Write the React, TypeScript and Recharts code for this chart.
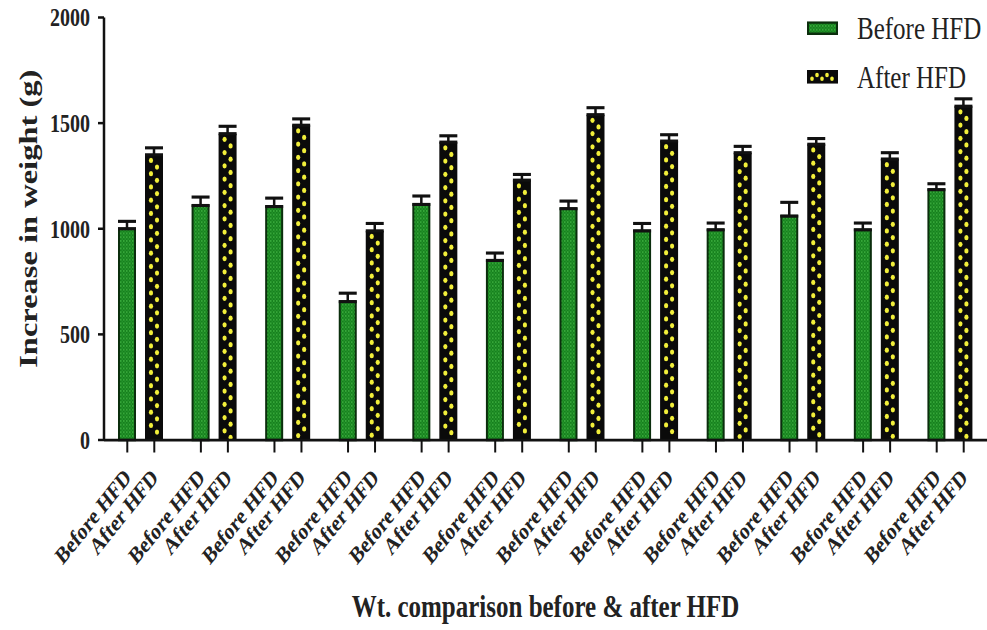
import React from 'react';
import { BarChart, Bar, XAxis, YAxis, ErrorBar, Legend } from 'recharts';

const groups = ['G1', 'G2', 'G3', 'G4', 'G5', 'G6', 'G7', 'G8', 'G9', 'G10', 'G11', 'G12'];
const seriesNames = ['Before HFD', 'After HFD'];
const tickLabels = ['Before HFD', 'After HFD'];
const beforeValues = [1000, 1110, 1105, 655, 1115, 850, 1095, 990, 995, 1060, 995, 1185];
const afterValues = [1350, 1450, 1490, 990, 1410, 1230, 1540, 1415, 1360, 1400, 1330, 1580];
const beforeErrors = [35, 40, 40, 40, 40, 35, 36, 35, 32, 65, 32, 28];
const afterErrors = [33, 35, 30, 35, 30, 27, 33, 30, 30, 27, 30, 35];
const yTicks = [0, 500, 1000, 1500, 2000];
const yTitle = 'Increase in weight (g)';
const xTitle = 'Wt. comparison before & after HFD';

const data = groups.map((g, i) => ({
  group: g,
  before: beforeValues[i],
  after: afterValues[i],
  beforeErr: [0, beforeErrors[i]],
  afterErr: [0, afterErrors[i]],
}));

const FONT = '"Liberation Serif", "Times New Roman", serif';
const BAR_SIZE = 18;
const BAR_GAP = 9;
const OFF = (BAR_SIZE + BAR_GAP) / 2;
const W = 987;
const H = 504;
const STRETCH = 1.25;

const BeforeShape = (p: any) => {
  const { x, y, width, height } = p;
  if (!height || height <= 0) return null;
  return (
    <rect x={x + 1} y={y} width={width - 2} height={height} fill="url(#greenTex)" stroke="#0b2e0d" strokeWidth={2} />
  );
};

const AfterShape = (p: any) => {
  const { x, y, width, height } = p;
  if (!height || height <= 0) return null;
  const cx = x + width / 2;
  const dots: any[] = [];
  let i = 0;
  for (let yy = y + 4.5; yy < y + height - 2; yy += 5.3) {
    dots.push(<circle key={i} cx={cx + (i % 2 ? 3 : -3)} cy={yy} r={2.1} fill="#f2ef3a" />);
    i++;
  }
  return (
    <g>
      <rect x={x} y={y} width={width} height={height} fill="#0a0a0a" />
      {dots}
    </g>
  );
};

const XTick = (p: any) => {
  const { x, y } = p;
  const offs = [-OFF, OFF];
  return (
    <g>
      {offs.map((o, k) => {
        const ax = x + o + 5;
        const ay = y + 31;
        return (
          <g key={k}>
            <line x1={x + o} y1={y} x2={x + o} y2={y + 10} stroke="#111" strokeWidth={2} />
            <text
              x={ax}
              y={ay}
              transform={`rotate(-45, ${ax}, ${ay})`}
              textAnchor="end"
              fontFamily={FONT}
              fontWeight="bold"
              fontSize={19}
              fill="#222"
            >
              {tickLabels[k]}
            </text>
          </g>
        );
      })}
    </g>
  );
};

const YLabel = (p: any) => {
  const vb = p.viewBox || { x: 0, y: 0, width: 0, height: 0 };
  const cx = 28;
  const cy = vb.y + vb.height / 2 - 8;
  return (
    <text
      x={cx}
      y={cy}
      transform={`rotate(-90, ${cx}, ${cy})`}
      textAnchor="middle"
      dominantBaseline="central"
      fontFamily={FONT}
      fontWeight="bold"
      fontSize={26}
      fill="#222"
    >
      {yTitle}
    </text>
  );
};

const XLabel = (p: any) => {
  const vb = p.viewBox || { x: 0, y: 0, width: 0, height: 0 };
  return (
    <text
      x={vb.x + vb.width / 2}
      y={vb.y + 142}
      textAnchor="middle"
      fontFamily={FONT}
      fontWeight="bold"
      fontSize={25}
      fill="#222"
    >
      {xTitle}
    </text>
  );
};

const LegendContent = () => (
  <div style={{ fontFamily: FONT }}>
    {seriesNames.map((name, k) => (
      <div key={name} style={{ display: 'flex', alignItems: 'center', height: 39 }}>
        <svg width={31} height={11} style={{ display: 'block' }}>
          {k === 0 ? (
            <rect x={1} y={1} width={29} height={9} fill="url(#greenTex)" stroke="#0b2e0d" strokeWidth={2} />
          ) : (
            <g>
              <rect x={0} y={0} width={31} height={11} fill="#0a0a0a" />
              {[5, 10, 15, 20, 25].map((cx, j) => (
                <circle key={j} cx={cx} cy={j % 2 ? 4 : 7} r={1.8} fill="#f2ef3a" />
              ))}
            </g>
          )}
        </svg>
        <span style={{ marginLeft: 19, fontSize: 25, color: '#222', lineHeight: '25px', whiteSpace: 'nowrap' }}>{name}</span>
      </div>
    ))}
  </div>
);

export default function App() {
  return (
    <div
      style={{
        position: 'absolute',
        left: 0,
        top: 0,
        width: W,
        height: H,
        transform: `scaleY(${STRETCH})`,
        transformOrigin: '0 0',
        background: '#fff',
      }}
    >
      <BarChart
        width={W}
        height={H}
        data={data}
        margin={{ top: 14, right: 0, bottom: 0, left: 0 }}
        barSize={BAR_SIZE}
        barGap={BAR_GAP}
      >
        <defs>
          <pattern id="greenTex" width={3} height={3} patternUnits="userSpaceOnUse">
            <rect x={0} y={0} width={3} height={3} fill="#17801d" />
            <rect x={0} y={0} width={1.5} height={1.5} fill="#36a83a" />
            <rect x={1.5} y={1.5} width={1.5} height={1.5} fill="#22922a" />
          </pattern>
        </defs>
        <YAxis
          width={104}
          domain={[0, 2000]}
          ticks={yTicks}
          interval={0}
          tickSize={6}
          tickMargin={8}
          axisLine={{ stroke: '#111', strokeWidth: 2.5 }}
          tickLine={{ stroke: '#111', strokeWidth: 2 }}
          tick={{ fontFamily: FONT, fontWeight: 'bold', fontSize: 20, fill: '#222' }}
          label={<YLabel />}
        />
        <XAxis
          dataKey="group"
          height={152}
          interval={0}
          tickSize={0}
          tickMargin={0}
          tickLine={false}
          axisLine={{ stroke: '#111', strokeWidth: 2.2 }}
          tick={<XTick />}
          label={<XLabel />}
        />
        <Legend
          layout="vertical"
          verticalAlign="middle"
          align="center"
          content={<LegendContent />}
          wrapperStyle={{ position: 'absolute', left: 807, top: 3, width: 180 }}
        />
        <Bar dataKey="before" name={seriesNames[0]} shape={<BeforeShape />} isAnimationActive={false}>
          <ErrorBar dataKey="beforeErr" width={9} stroke="#111" strokeWidth={2.5} direction="y" />
        </Bar>
        <Bar dataKey="after" name={seriesNames[1]} shape={<AfterShape />} isAnimationActive={false}>
          <ErrorBar dataKey="afterErr" width={9} stroke="#111" strokeWidth={2.5} direction="y" />
        </Bar>
      </BarChart>
    </div>
  );
}
